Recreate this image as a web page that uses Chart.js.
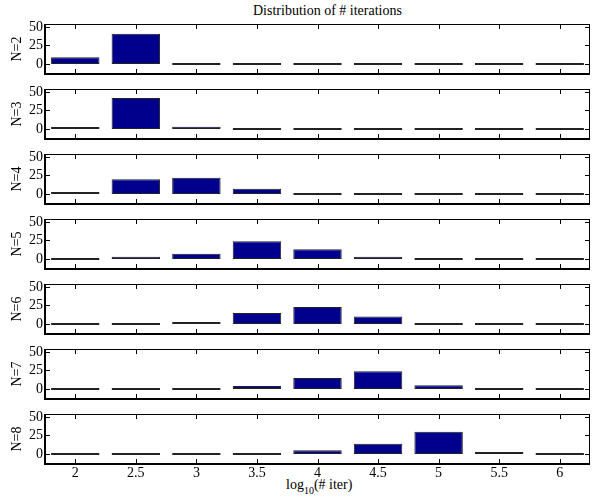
<!DOCTYPE html>
<html>
<head>
<meta charset="utf-8">
<script src="https://cdn.jsdelivr.net/npm/chart.js@4.4.1/dist/chart.umd.min.js"></script>
<style>
  body { margin: 0; background: #fff; }
  #wrap { position: relative; width: 595px; height: 497px; overflow: hidden;
          font-family: "Liberation Serif", "Times New Roman", serif; font-size: 14px; color: #000; }
  #wrap canvas { position: absolute; left: 0; }
  .title { position: absolute; left: 253px; top: 3px; line-height: 16px; white-space: nowrap; }
  .xlabel { position: absolute; left: 286px; top: 477px; line-height: 16px; white-space: nowrap; }
  .xlabel sub { font-size: 10px; vertical-align: -5px; line-height: 0; }
</style>
</head>
<body>
<div id="wrap">
  <div class="title">Distribution of # iterations</div>
  <div class="xlabel">log<sub>10</sub>(# iter)</div>
</div>
<script>
// bins on the x axis (log10 of iteration count)
const bins = ["2", "2.5", "3", "3.5", "4", "4.5", "5", "5.5", "6"];
const panelNames = ["N=2", "N=3", "N=4", "N=5", "N=6", "N=7", "N=8"];

// counts per bin, one array per panel
const countsN2 = [9, 41, 0, 0, 0, 0, 0, 0, 0];
const countsN3 = [1, 42, 3, 0, 0, 0, 0, 0, 0];
const countsN4 = [1, 20, 22, 7, 0, 0, 0, 0, 0];
const countsN5 = [0, 3, 7, 24, 13, 3, 0, 0, 0];
const countsN6 = [0, 0, 2, 15, 23, 10, 0, 0, 0];
const countsN7 = [0, 0, 0, 4, 15, 24, 5, 0, 0];
const countsN8 = [0, 0, 0, 0, 5, 14, 30, 1, 0];

const yTicks = [0, 25, 50];
const yMin = -13.5;
const yMax = 54;

const allCounts = [countsN2, countsN3, countsN4, countsN5, countsN6, countsN7, countsN8];

Chart.defaults.font.family = "'Liberation Serif', 'Times New Roman', serif";
Chart.defaults.font.size = 14;
Chart.defaults.color = "#000";

// box around each axes + inward tick marks (matlab look)
const boxPlugin = {
  id: "box",
  afterDatasetsDraw(chart) {
    const ctx = chart.ctx;
    const a = chart.chartArea;
    const xs = chart.scales.x;
    const ys = chart.scales.y;
    ctx.save();
    ctx.strokeStyle = "#000";
    ctx.lineWidth = 1;
    ctx.beginPath();
    xs.ticks.forEach((t, i) => {
      const px = Math.round(xs.getPixelForTick(i)) + 0.5;
      ctx.moveTo(px, a.top);
      ctx.lineTo(px, a.top + 5);
      ctx.moveTo(px, a.bottom);
      ctx.lineTo(px, a.bottom - 5);
    });
    yTicks.forEach((v) => {
      const py = Math.round(ys.getPixelForValue(v)) + 0.5;
      ctx.moveTo(a.left, py);
      ctx.lineTo(a.left + 5, py);
      ctx.moveTo(a.right, py);
      ctx.lineTo(a.right - 5, py);
    });
    // top and right edges
    ctx.moveTo(a.left, a.top + 0.5);
    ctx.lineTo(a.right, a.top + 0.5);
    ctx.moveTo(a.right - 0.5, a.top);
    ctx.lineTo(a.right - 0.5, a.bottom);
    ctx.stroke();
    // left and bottom edges are heavier
    ctx.lineWidth = 2;
    ctx.beginPath();
    ctx.moveTo(a.left, a.top);
    ctx.lineTo(a.left, a.bottom);
    ctx.lineTo(a.right, a.bottom);
    ctx.stroke();
    ctx.restore();
  }
};

const wrap = document.getElementById("wrap");

allCounts.forEach(function(counts, i) {
  const isLast = i === allCounts.length - 1;
  const areaTop = 24 + 65 * i;
  const canvasTop = areaTop - 12;
  const canvasHeight = isLast ? 497 - canvasTop : 74;

  const canvas = document.createElement("canvas");
  canvas.width = 595;
  canvas.height = canvasHeight;
  canvas.style.top = canvasTop + "px";
  canvas.style.width = "595px";
  canvas.style.height = canvasHeight + "px";
  wrap.appendChild(canvas);

  new Chart(canvas.getContext("2d"), {
    type: "bar",
    data: {
      labels: bins,
      datasets: [{
        data: counts,
        backgroundColor: "#00008c",
        borderColor: "#222",
        borderWidth: 1,
        borderSkipped: false,
        minBarLength: 2,
        barPercentage: 0.8,
        categoryPercentage: 1
      }]
    },
    options: {
      responsive: false,
      animation: false,
      events: [],
      layout: { padding: { top: 12, bottom: isLast ? 0 : 12, left: 0, right: 5 } },
      plugins: { legend: { display: false }, tooltip: { enabled: false } },
      scales: {
        x: {
          display: isLast,
          offset: true,
          grid: { display: false, drawTicks: false },
          border: { display: false },
          ticks: { padding: 1, maxRotation: 0, autoSkip: false },
          afterFit: function(scale) { if (isLast) scale.height = 33; }
        },
        y: {
          min: yMin,
          max: yMax,
          grid: { display: false, drawTicks: false },
          border: { display: false },
          ticks: { padding: 2, autoSkip: false },
          afterBuildTicks: function(scale) {
            scale.ticks = yTicks.map((v) => ({ value: v }));
          },
          afterFit: function(scale) { scale.width = 45; },
          title: {
            display: true,
            text: panelNames[i],
            padding: { top: 9, bottom: 0 }
          }
        }
      }
    },
    plugins: [boxPlugin]
  });
});
</script>
</body>
</html>
